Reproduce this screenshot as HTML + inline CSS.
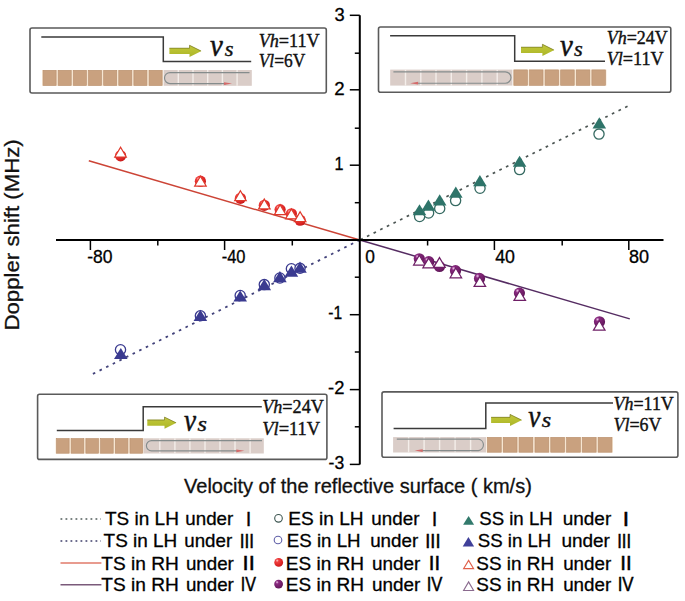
<!DOCTYPE html>
<html><head><meta charset="utf-8"><title>Doppler shift chart</title>
<style>html,body{margin:0;padding:0;background:#fff;} svg{display:block;}</style></head>
<body>
<svg width="685" height="601" viewBox="0 0 685 601" style="font-family:'Liberation Sans', sans-serif">
<defs>
<linearGradient id="grn" x1="0" y1="0" x2="0" y2="1">
<stop offset="0" stop-color="#c2c640"/><stop offset="0.5" stop-color="#b8c030"/><stop offset="1" stop-color="#aab42a"/>
</linearGradient>
<radialGradient id="sred" cx="0.38" cy="0.35" r="0.7" fx="0.32" fy="0.28">
<stop offset="0" stop-color="#ffd0d0"/><stop offset="0.25" stop-color="#f04040"/><stop offset="0.8" stop-color="#d82020"/><stop offset="1" stop-color="#c01818"/>
</radialGradient>
<radialGradient id="spur" cx="0.38" cy="0.35" r="0.7" fx="0.32" fy="0.28">
<stop offset="0" stop-color="#f0c8ec"/><stop offset="0.25" stop-color="#8a2a80"/><stop offset="0.8" stop-color="#6a1a62"/><stop offset="1" stop-color="#581452"/>
</radialGradient>
</defs>
<rect width="685" height="601" fill="#fff"/>
<line x1="359.8" y1="240.0" x2="628" y2="106" stroke="#4c5553" stroke-width="1.7" stroke-dasharray="2.7 4.7" stroke-dashoffset="-0.6"/>
<line x1="359.8" y1="240.0" x2="92.3" y2="374.2" stroke="#42427a" stroke-width="1.8" stroke-dasharray="2.6 4.8"/>
<line x1="88.8" y1="160.8" x2="359.8" y2="240.0" stroke="#cc4436" stroke-width="1.5"/>
<line x1="359.8" y1="240.0" x2="629.8" y2="318.9" stroke="#552c62" stroke-width="1.5"/>
<line x1="56" y1="240.0" x2="663.5" y2="240.0" stroke="#000" stroke-width="2"/>
<line x1="359.8" y1="15.3" x2="359.8" y2="464.5" stroke="#000" stroke-width="2"/>
<line x1="90.4" y1="240.0" x2="90.4" y2="250.0" stroke="#000" stroke-width="1.5"/>
<line x1="224.6" y1="240.0" x2="224.6" y2="250.0" stroke="#000" stroke-width="1.5"/>
<line x1="494.4" y1="240.0" x2="494.4" y2="250.0" stroke="#000" stroke-width="1.5"/>
<line x1="628.8" y1="240.0" x2="628.8" y2="250.0" stroke="#000" stroke-width="1.5"/>
<line x1="157.8" y1="240.0" x2="157.8" y2="245.5" stroke="#000" stroke-width="1.5"/>
<line x1="292.3" y1="240.0" x2="292.3" y2="245.5" stroke="#000" stroke-width="1.5"/>
<line x1="427.6" y1="240.0" x2="427.6" y2="245.5" stroke="#000" stroke-width="1.5"/>
<line x1="562.2" y1="240.0" x2="562.2" y2="245.5" stroke="#000" stroke-width="1.5"/>
<line x1="349.8" y1="15.3" x2="359.8" y2="15.3" stroke="#000" stroke-width="1.5"/>
<line x1="349.8" y1="89.8" x2="359.8" y2="89.8" stroke="#000" stroke-width="1.5"/>
<line x1="349.8" y1="165.2" x2="359.8" y2="165.2" stroke="#000" stroke-width="1.5"/>
<line x1="349.8" y1="314.7" x2="359.8" y2="314.7" stroke="#000" stroke-width="1.5"/>
<line x1="349.8" y1="389.6" x2="359.8" y2="389.6" stroke="#000" stroke-width="1.5"/>
<line x1="349.8" y1="464.4" x2="359.8" y2="464.4" stroke="#000" stroke-width="1.5"/>
<line x1="354.8" y1="53.2" x2="359.8" y2="53.2" stroke="#000" stroke-width="1.5"/>
<line x1="354.8" y1="128.2" x2="359.8" y2="128.2" stroke="#000" stroke-width="1.5"/>
<line x1="354.8" y1="202.7" x2="359.8" y2="202.7" stroke="#000" stroke-width="1.5"/>
<line x1="354.8" y1="277.2" x2="359.8" y2="277.2" stroke="#000" stroke-width="1.5"/>
<line x1="354.8" y1="352" x2="359.8" y2="352" stroke="#000" stroke-width="1.5"/>
<line x1="354.8" y1="426.8" x2="359.8" y2="426.8" stroke="#000" stroke-width="1.5"/>
<text transform="translate(334.46,20.50) scale(1.0290,1)" font-size="17.8" fill="#000" stroke="#000" stroke-width="0.3" ><tspan font-family="Liberation Sans" font-weight="normal" font-style="normal">3</tspan></text>
<text transform="translate(334.22,94.70) scale(1.0495,1)" font-size="17.8" fill="#000" stroke="#000" stroke-width="0.3" ><tspan font-family="Liberation Sans" font-weight="normal" font-style="normal">2</tspan></text>
<text transform="translate(334.54,169.80) scale(0.9093,1)" font-size="17.8" fill="#000" stroke="#000" stroke-width="0.3" ><tspan font-family="Liberation Sans" font-weight="normal" font-style="normal">1</tspan></text>
<text transform="translate(328.25,319.10) scale(0.8763,1)" font-size="17.8" fill="#000" stroke="#000" stroke-width="0.3" ><tspan font-family="Liberation Sans" font-weight="normal" font-style="normal">-1</tspan></text>
<text transform="translate(328.02,394.10) scale(1.0350,1)" font-size="17.8" fill="#000" stroke="#000" stroke-width="0.3" ><tspan font-family="Liberation Sans" font-weight="normal" font-style="normal">-2</tspan></text>
<text transform="translate(328.56,469.40) scale(0.9902,1)" font-size="17.8" fill="#000" stroke="#000" stroke-width="0.3" ><tspan font-family="Liberation Sans" font-weight="normal" font-style="normal">-3</tspan></text>
<text transform="translate(87.26,262.70) scale(0.9855,1)" font-size="17.8" fill="#000" stroke="#000" stroke-width="0.3" ><tspan font-family="Liberation Sans" font-weight="normal" font-style="normal">-80</tspan></text>
<text transform="translate(221.71,262.70) scale(0.9236,1)" font-size="17.8" fill="#000" stroke="#000" stroke-width="0.3" ><tspan font-family="Liberation Sans" font-weight="normal" font-style="normal">-40</tspan></text>
<text transform="translate(365.15,262.60) scale(0.9765,1)" font-size="17.8" fill="#000" stroke="#000" stroke-width="0.3" ><tspan font-family="Liberation Sans" font-weight="normal" font-style="normal">0</tspan></text>
<text transform="translate(495.15,262.70) scale(1.0005,1)" font-size="17.8" fill="#000" stroke="#000" stroke-width="0.3" ><tspan font-family="Liberation Sans" font-weight="normal" font-style="normal">40</tspan></text>
<text transform="translate(628.98,262.70) scale(1.0145,1)" font-size="17.8" fill="#000" stroke="#000" stroke-width="0.3" ><tspan font-family="Liberation Sans" font-weight="normal" font-style="normal">80</tspan></text>
<circle cx="419.6" cy="216.5" r="5.1" fill="#fff" stroke="#366a62" stroke-width="1.3"/>
<circle cx="428.6" cy="213" r="5.1" fill="#fff" stroke="#366a62" stroke-width="1.3"/>
<circle cx="439.7" cy="208.5" r="5.1" fill="#fff" stroke="#366a62" stroke-width="1.3"/>
<circle cx="455.6" cy="200.6" r="5.1" fill="#fff" stroke="#366a62" stroke-width="1.3"/>
<circle cx="480" cy="188.3" r="5.1" fill="#fff" stroke="#366a62" stroke-width="1.3"/>
<circle cx="519.6" cy="169.6" r="5.1" fill="#fff" stroke="#366a62" stroke-width="1.3"/>
<circle cx="599" cy="134.1" r="5.1" fill="#fff" stroke="#366a62" stroke-width="1.3"/>
<circle cx="120.5" cy="349.7" r="5.1" fill="#fff" stroke="#3a3a90" stroke-width="1.3"/>
<circle cx="200.4" cy="315.8" r="5.1" fill="#fff" stroke="#3a3a90" stroke-width="1.3"/>
<circle cx="240.2" cy="295.5" r="5.1" fill="#fff" stroke="#3a3a90" stroke-width="1.3"/>
<circle cx="264.3" cy="284.6" r="5.1" fill="#fff" stroke="#3a3a90" stroke-width="1.3"/>
<circle cx="279.9" cy="278" r="5.1" fill="#fff" stroke="#3a3a90" stroke-width="1.3"/>
<circle cx="291.4" cy="268.7" r="5.1" fill="#fff" stroke="#3a3a90" stroke-width="1.3"/>
<circle cx="300" cy="268.3" r="5.1" fill="#fff" stroke="#3a3a90" stroke-width="1.3"/>
<circle cx="120.6" cy="155.8" r="5.6" fill="url(#sred)"/>
<circle cx="200.4" cy="181.2" r="5.6" fill="url(#sred)"/>
<circle cx="240.4" cy="198.3" r="5.6" fill="url(#sred)"/>
<circle cx="264.3" cy="205.3" r="5.6" fill="url(#sred)"/>
<circle cx="280.1" cy="209.6" r="5.6" fill="url(#sred)"/>
<circle cx="291.4" cy="213.8" r="5.6" fill="url(#sred)"/>
<circle cx="300.1" cy="220.2" r="5.6" fill="url(#sred)"/>
<circle cx="419.3" cy="258.8" r="5.6" fill="url(#spur)"/>
<circle cx="428.8" cy="261.7" r="5.6" fill="url(#spur)"/>
<circle cx="439.5" cy="266.5" r="5.6" fill="url(#spur)"/>
<circle cx="455.5" cy="270.7" r="5.6" fill="url(#spur)"/>
<circle cx="479.5" cy="278.4" r="5.6" fill="url(#spur)"/>
<circle cx="519.4" cy="293.1" r="5.6" fill="url(#spur)"/>
<circle cx="599.5" cy="321.8" r="5.6" fill="url(#spur)"/>
<polygon points="419.5,204.2 426.3,215.3 412.7,215.3" fill="#2e7469"/>
<polygon points="428.4,199.6 435.2,210.8 421.6,210.8" fill="#2e7469"/>
<polygon points="439.7,194.3 446.5,205.5 432.9,205.5" fill="#2e7469"/>
<polygon points="455.8,186.6 462.6,197.8 449.0,197.8" fill="#2e7469"/>
<polygon points="479.9,175.1 486.7,186.2 473.1,186.2" fill="#2e7469"/>
<polygon points="519.6,155.7 526.4,166.8 512.8,166.8" fill="#2e7469"/>
<polygon points="599.3,117.3 606.1,128.5 592.5,128.5" fill="#2e7469"/>
<polygon points="120.8,347.9 127.6,359.1 114.0,359.1" fill="#3a3a90"/>
<polygon points="200.4,309.8 207.2,321.0 193.6,321.0" fill="#3a3a90"/>
<polygon points="240.2,290.4 247.0,301.6 233.4,301.6" fill="#3a3a90"/>
<polygon points="264.3,279.0 271.1,290.2 257.5,290.2" fill="#3a3a90"/>
<polygon points="279.9,271.1 286.7,282.3 273.1,282.3" fill="#3a3a90"/>
<polygon points="291.4,265.5 298.2,276.7 284.6,276.7" fill="#3a3a90"/>
<polygon points="300.0,261.6 306.8,272.8 293.2,272.8" fill="#3a3a90"/>
<polygon points="120.6,147.2 126.3,157.0 114.8,157.0" fill="#fff" stroke="#e0392b" stroke-width="1.25"/>
<polygon points="200.4,176.2 206.2,186.0 194.7,186.0" fill="#fff" stroke="#e0392b" stroke-width="1.25"/>
<polygon points="240.4,190.8 246.2,200.6 234.7,200.6" fill="#fff" stroke="#e0392b" stroke-width="1.25"/>
<polygon points="264.3,199.1 270.1,208.9 258.6,208.9" fill="#fff" stroke="#e0392b" stroke-width="1.25"/>
<polygon points="280.1,204.8 285.9,214.6 274.4,214.6" fill="#fff" stroke="#e0392b" stroke-width="1.25"/>
<polygon points="291.4,209.0 297.1,218.8 285.6,218.8" fill="#fff" stroke="#e0392b" stroke-width="1.25"/>
<polygon points="300.1,211.8 305.9,221.6 294.4,221.6" fill="#fff" stroke="#e0392b" stroke-width="1.25"/>
<polygon points="419.3,255.2 425.1,265.0 413.6,265.0" fill="#fff" stroke="#6e1f66" stroke-width="1.25"/>
<polygon points="428.7,258.1 434.4,267.8 422.9,267.8" fill="#fff" stroke="#6e1f66" stroke-width="1.25"/>
<polygon points="439.5,257.6 445.2,267.3 433.8,267.3" fill="#fff" stroke="#6e1f66" stroke-width="1.25"/>
<polygon points="455.8,268.0 461.6,277.8 450.1,277.8" fill="#fff" stroke="#6e1f66" stroke-width="1.25"/>
<polygon points="479.8,276.6 485.6,286.4 474.1,286.4" fill="#fff" stroke="#6e1f66" stroke-width="1.25"/>
<polygon points="519.7,290.7 525.5,300.4 514.0,300.4" fill="#fff" stroke="#6e1f66" stroke-width="1.25"/>
<polygon points="599.3,320.4 605.0,330.1 593.5,330.1" fill="#fff" stroke="#6e1f66" stroke-width="1.25"/>
<rect x="30" y="28" width="296.3" height="65.0" rx="2" fill="#fff" stroke="#5a5a5a" stroke-width="1.6"/>
<rect x="42.0" y="70.0" width="121.1" height="15.8" fill="#f7e6d2"/>
<rect x="43.1" y="70.3" width="13.0" height="15.2" fill="#c9a17f" stroke="#b88f6e" stroke-width="0.6"/>
<rect x="58.2" y="70.3" width="13.0" height="15.2" fill="#c9a17f" stroke="#b88f6e" stroke-width="0.6"/>
<rect x="73.4" y="70.3" width="13.0" height="15.2" fill="#c9a17f" stroke="#b88f6e" stroke-width="0.6"/>
<rect x="88.5" y="70.3" width="13.0" height="15.2" fill="#c9a17f" stroke="#b88f6e" stroke-width="0.6"/>
<rect x="103.7" y="70.3" width="13.0" height="15.2" fill="#c9a17f" stroke="#b88f6e" stroke-width="0.6"/>
<rect x="118.8" y="70.3" width="13.0" height="15.2" fill="#c9a17f" stroke="#b88f6e" stroke-width="0.6"/>
<rect x="133.9" y="70.3" width="13.0" height="15.2" fill="#c9a17f" stroke="#b88f6e" stroke-width="0.6"/>
<rect x="149.1" y="70.3" width="13.0" height="15.2" fill="#c9a17f" stroke="#b88f6e" stroke-width="0.6"/>
<rect x="163.6" y="70.0" width="88.2" height="15.8" fill="#dacdc8"/>
<rect x="177.6" y="70.0" width="1.4" height="15.8" fill="#f4eeea"/>
<rect x="192.3" y="70.0" width="1.4" height="15.8" fill="#f4eeea"/>
<rect x="207.0" y="70.0" width="1.4" height="15.8" fill="#f4eeea"/>
<rect x="221.7" y="70.0" width="1.4" height="15.8" fill="#f4eeea"/>
<rect x="236.4" y="70.0" width="1.4" height="15.8" fill="#f4eeea"/>
<path d="M249.5,72.6 H170.0 A5.5,5.5 0 0 0 170.0,83.6 H226.0" fill="none" stroke="#858c8c" stroke-width="1.15"/>
<polygon points="224.0,82.2 232.0,83.6 224.0,85.0" fill="#d46a6a"/>
<polyline points="41.3,37.1 163.3,37.1 163.3,61.4 251.2,61.4" fill="none" stroke="#3a3a3a" stroke-width="1.5"/>
<polygon points="169.4,48.0 189.5,48.0 189.5,45.1 201.5,51 189.5,56.9 189.5,54.0 169.4,54.0" fill="url(#grn)"/>
<polyline points="169.4,48.2 189.5,48.2 189.5,45.3 201.0,51" fill="none" stroke="#6e7020" stroke-width="0.8" opacity="0.8"/>
<text transform="translate(210.02,56.30) scale(0.8873,1)" font-size="32.5" fill="#111" stroke="#111" stroke-width="0.5" ><tspan font-family="Liberation Serif" font-weight="normal" font-style="italic">v</tspan></text>
<text transform="translate(224.72,56.30) scale(1.0689,1)" font-size="21" fill="#111" stroke="#111" stroke-width="0.4" ><tspan font-family="Liberation Serif" font-weight="normal" font-style="italic">s</tspan></text>
<text transform="translate(258.65,46.90) scale(0.9568,1)" font-size="19" fill="#111" stroke="#111" stroke-width="0.4" ><tspan font-family="Liberation Serif" font-weight="normal" font-style="italic">Vh</tspan><tspan font-family="Liberation Serif" font-weight="normal" font-style="normal">=11V</tspan></text>
<text transform="translate(258.69,67.30) scale(0.9155,1)" font-size="19" fill="#111" stroke="#111" stroke-width="0.4" ><tspan font-family="Liberation Serif" font-weight="normal" font-style="italic">Vl</tspan><tspan font-family="Liberation Serif" font-weight="normal" font-style="normal">=6V</tspan></text>
<rect x="378.5" y="27" width="292.3" height="65.2" rx="2" fill="#fff" stroke="#5a5a5a" stroke-width="1.6"/>
<rect x="390.2" y="69.6" width="122.2" height="16.0" fill="#dacdc8"/>
<rect x="404.8" y="69.6" width="1.4" height="16.0" fill="#f4eeea"/>
<rect x="420.1" y="69.6" width="1.4" height="16.0" fill="#f4eeea"/>
<rect x="435.3" y="69.6" width="1.4" height="16.0" fill="#f4eeea"/>
<rect x="450.6" y="69.6" width="1.4" height="16.0" fill="#f4eeea"/>
<rect x="465.9" y="69.6" width="1.4" height="16.0" fill="#f4eeea"/>
<rect x="481.2" y="69.6" width="1.4" height="16.0" fill="#f4eeea"/>
<rect x="496.5" y="69.6" width="1.4" height="16.0" fill="#f4eeea"/>
<rect x="512.9" y="69.6" width="93.6" height="16.0" fill="#f7e6d2"/>
<rect x="513.9" y="69.9" width="13.5" height="15.4" fill="#c9a17f" stroke="#b88f6e" stroke-width="0.6"/>
<rect x="529.5" y="69.9" width="13.5" height="15.4" fill="#c9a17f" stroke="#b88f6e" stroke-width="0.6"/>
<rect x="545.1" y="69.9" width="13.5" height="15.4" fill="#c9a17f" stroke="#b88f6e" stroke-width="0.6"/>
<rect x="560.7" y="69.9" width="13.5" height="15.4" fill="#c9a17f" stroke="#b88f6e" stroke-width="0.6"/>
<rect x="576.3" y="69.9" width="13.5" height="15.4" fill="#c9a17f" stroke="#b88f6e" stroke-width="0.6"/>
<rect x="591.9" y="69.9" width="13.5" height="15.4" fill="#c9a17f" stroke="#b88f6e" stroke-width="0.6"/>
<path d="M393.4,71.8 H505.3 A5.7,5.7 0 0 1 505.3,83.2 H416.1" fill="none" stroke="#858c8c" stroke-width="1.15"/>
<polygon points="418.1,81.8 410.1,83.2 418.1,84.6" fill="#d46a6a"/>
<polyline points="390.1,35.8 514.7,35.8 514.7,61.2 605.0,61.2" fill="none" stroke="#3a3a3a" stroke-width="1.5"/>
<polygon points="521,47.0 542.4,47.0 542.4,44.1 554.4,50 542.4,55.9 542.4,53.0 521,53.0" fill="url(#grn)"/>
<polyline points="521,47.2 542.4,47.2 542.4,44.3 553.9,50" fill="none" stroke="#6e7020" stroke-width="0.8" opacity="0.8"/>
<text transform="translate(560.02,56.30) scale(0.8873,1)" font-size="32.5" fill="#111" stroke="#111" stroke-width="0.5" ><tspan font-family="Liberation Serif" font-weight="normal" font-style="italic">v</tspan></text>
<text transform="translate(574.12,56.30) scale(1.0689,1)" font-size="21" fill="#111" stroke="#111" stroke-width="0.4" ><tspan font-family="Liberation Serif" font-weight="normal" font-style="italic">s</tspan></text>
<text transform="translate(606.66,44.10) scale(0.9460,1)" font-size="19" fill="#111" stroke="#111" stroke-width="0.4" ><tspan font-family="Liberation Serif" font-weight="normal" font-style="italic">Vh</tspan><tspan font-family="Liberation Serif" font-weight="normal" font-style="normal">=24V</tspan></text>
<text transform="translate(606.65,64.60) scale(0.9558,1)" font-size="19" fill="#111" stroke="#111" stroke-width="0.4" ><tspan font-family="Liberation Serif" font-weight="normal" font-style="italic">Vl</tspan><tspan font-family="Liberation Serif" font-weight="normal" font-style="normal">=11V</tspan></text>
<rect x="37.6" y="394.2" width="289.3" height="65.2" rx="2" fill="#fff" stroke="#5a5a5a" stroke-width="1.6"/>
<rect x="55.5" y="438.3" width="88.2" height="15.2" fill="#f7e6d2"/>
<rect x="56.5" y="438.6" width="12.6" height="14.6" fill="#c9a17f" stroke="#b88f6e" stroke-width="0.6"/>
<rect x="71.2" y="438.6" width="12.6" height="14.6" fill="#c9a17f" stroke="#b88f6e" stroke-width="0.6"/>
<rect x="85.9" y="438.6" width="12.6" height="14.6" fill="#c9a17f" stroke="#b88f6e" stroke-width="0.6"/>
<rect x="100.6" y="438.6" width="12.6" height="14.6" fill="#c9a17f" stroke="#b88f6e" stroke-width="0.6"/>
<rect x="115.3" y="438.6" width="12.6" height="14.6" fill="#c9a17f" stroke="#b88f6e" stroke-width="0.6"/>
<rect x="130.0" y="438.6" width="12.6" height="14.6" fill="#c9a17f" stroke="#b88f6e" stroke-width="0.6"/>
<rect x="143.5" y="438.3" width="120.3" height="15.2" fill="#dacdc8"/>
<rect x="159.1" y="438.3" width="1.4" height="15.2" fill="#f4eeea"/>
<rect x="174.2" y="438.3" width="1.4" height="15.2" fill="#f4eeea"/>
<rect x="189.2" y="438.3" width="1.4" height="15.2" fill="#f4eeea"/>
<rect x="204.3" y="438.3" width="1.4" height="15.2" fill="#f4eeea"/>
<rect x="219.3" y="438.3" width="1.4" height="15.2" fill="#f4eeea"/>
<rect x="234.3" y="438.3" width="1.4" height="15.2" fill="#f4eeea"/>
<rect x="249.4" y="438.3" width="1.4" height="15.2" fill="#f4eeea"/>
<path d="M262.0,440.6 H151.5 A5.1,5.1 0 0 0 151.5,450.8 H238.4" fill="none" stroke="#858c8c" stroke-width="1.15"/>
<polygon points="236.4,449.4 244.4,450.8 236.4,452.2" fill="#d46a6a"/>
<polyline points="56.8,430.4 143.2,430.4 143.2,406.8 261.8,406.8" fill="none" stroke="#3a3a3a" stroke-width="1.5"/>
<polygon points="147.3,419.8 164.5,419.8 164.5,416.90000000000003 176.5,422.8 164.5,428.7 164.5,425.8 147.3,425.8" fill="url(#grn)"/>
<polyline points="147.3,420.0 164.5,420.0 164.5,417.1 176.0,422.8" fill="none" stroke="#6e7020" stroke-width="0.8" opacity="0.8"/>
<text transform="translate(183.94,430.90) scale(0.8372,1)" font-size="32.5" fill="#111" stroke="#111" stroke-width="0.5" ><tspan font-family="Liberation Serif" font-weight="normal" font-style="italic">v</tspan></text>
<text transform="translate(197.40,430.90) scale(1.1511,1)" font-size="21" fill="#111" stroke="#111" stroke-width="0.4" ><tspan font-family="Liberation Serif" font-weight="normal" font-style="italic">s</tspan></text>
<text transform="translate(262.25,413.40) scale(0.9539,1)" font-size="19" fill="#111" stroke="#111" stroke-width="0.4" ><tspan font-family="Liberation Serif" font-weight="normal" font-style="italic">Vh</tspan><tspan font-family="Liberation Serif" font-weight="normal" font-style="normal">=24V</tspan></text>
<text transform="translate(262.23,435.20) scale(0.9713,1)" font-size="19" fill="#111" stroke="#111" stroke-width="0.4" ><tspan font-family="Liberation Serif" font-weight="normal" font-style="italic">Vl</tspan><tspan font-family="Liberation Serif" font-weight="normal" font-style="normal">=11V</tspan></text>
<rect x="382" y="391.9" width="295.9" height="65.3" rx="2" fill="#fff" stroke="#5a5a5a" stroke-width="1.6"/>
<rect x="393.1" y="437.1" width="93.0" height="15.4" fill="#dacdc8"/>
<rect x="407.9" y="437.1" width="1.4" height="15.4" fill="#f4eeea"/>
<rect x="423.4" y="437.1" width="1.4" height="15.4" fill="#f4eeea"/>
<rect x="438.9" y="437.1" width="1.4" height="15.4" fill="#f4eeea"/>
<rect x="454.4" y="437.1" width="1.4" height="15.4" fill="#f4eeea"/>
<rect x="469.9" y="437.1" width="1.4" height="15.4" fill="#f4eeea"/>
<rect x="486.4" y="437.1" width="126.6" height="15.4" fill="#f7e6d2"/>
<rect x="487.5" y="437.4" width="13.7" height="14.8" fill="#c9a17f" stroke="#b88f6e" stroke-width="0.6"/>
<rect x="503.3" y="437.4" width="13.7" height="14.8" fill="#c9a17f" stroke="#b88f6e" stroke-width="0.6"/>
<rect x="519.1" y="437.4" width="13.7" height="14.8" fill="#c9a17f" stroke="#b88f6e" stroke-width="0.6"/>
<rect x="535.0" y="437.4" width="13.7" height="14.8" fill="#c9a17f" stroke="#b88f6e" stroke-width="0.6"/>
<rect x="550.8" y="437.4" width="13.7" height="14.8" fill="#c9a17f" stroke="#b88f6e" stroke-width="0.6"/>
<rect x="566.6" y="437.4" width="13.7" height="14.8" fill="#c9a17f" stroke="#b88f6e" stroke-width="0.6"/>
<rect x="582.4" y="437.4" width="13.7" height="14.8" fill="#c9a17f" stroke="#b88f6e" stroke-width="0.6"/>
<rect x="598.2" y="437.4" width="13.7" height="14.8" fill="#c9a17f" stroke="#b88f6e" stroke-width="0.6"/>
<path d="M396.8,439.1 H478.4 A5.8,5.8 0 0 1 478.4,450.6 H420.7" fill="none" stroke="#858c8c" stroke-width="1.15"/>
<polygon points="422.7,449.2 414.7,450.6 422.7,452.0" fill="#d46a6a"/>
<polyline points="393.6,428.4 485.8,428.4 485.8,402.9 613.0,402.9" fill="none" stroke="#3a3a3a" stroke-width="1.5"/>
<polygon points="491.1,417.1 510,417.1 510,414.20000000000005 522,420.1 510,426.0 510,423.1 491.1,423.1" fill="url(#grn)"/>
<polyline points="491.1,417.3 510,417.3 510,414.40000000000003 521.5,420.1" fill="none" stroke="#6e7020" stroke-width="0.8" opacity="0.8"/>
<text transform="translate(528.34,426.50) scale(0.8372,1)" font-size="32.5" fill="#111" stroke="#111" stroke-width="0.5" ><tspan font-family="Liberation Serif" font-weight="normal" font-style="italic">v</tspan></text>
<text transform="translate(541.80,426.50) scale(1.1511,1)" font-size="21" fill="#111" stroke="#111" stroke-width="0.4" ><tspan font-family="Liberation Serif" font-weight="normal" font-style="italic">s</tspan></text>
<text transform="translate(613.56,409.80) scale(0.9440,1)" font-size="19" fill="#111" stroke="#111" stroke-width="0.4" ><tspan font-family="Liberation Serif" font-weight="normal" font-style="italic">Vh</tspan><tspan font-family="Liberation Serif" font-weight="normal" font-style="normal">=11V</tspan></text>
<text transform="translate(613.56,430.90) scale(0.9417,1)" font-size="19" fill="#111" stroke="#111" stroke-width="0.4" ><tspan font-family="Liberation Serif" font-weight="normal" font-style="italic">Vl</tspan><tspan font-family="Liberation Serif" font-weight="normal" font-style="normal">=6V</tspan></text>
<text transform="translate(184.05,493.20) scale(1.0104,1)" font-size="19.8" fill="#111" stroke="#111" stroke-width="0.3" ><tspan font-family="Liberation Sans" font-weight="normal" font-style="normal">Velocity of the reflective surface ( km/s)</tspan></text>
<g transform="translate(19.2,330.53) rotate(-90)"><text transform="scale(1.0581,1)" font-family="Liberation Sans" font-size="21" fill="#111" stroke="#111" stroke-width="0.3">Doppler shift (MHz)</text></g>
<line x1="60.5" y1="518.9" x2="101" y2="518.9" stroke="#505c5a" stroke-width="1.5" stroke-dasharray="1.8 3.2"/>
<line x1="60.5" y1="540.9" x2="101" y2="540.9" stroke="#3e3e6a" stroke-width="1.5" stroke-dasharray="1.8 3.2"/>
<line x1="60.5" y1="562.9" x2="101.4" y2="562.9" stroke="#e07a6a" stroke-width="1.5"/>
<line x1="60.5" y1="584.8" x2="101.4" y2="584.8" stroke="#7a5a7a" stroke-width="1.5"/>
<text transform="translate(105.02,525.10) scale(1.0268,1)" font-size="18.5" fill="#000" stroke="#000" stroke-width="0.3" ><tspan font-family="Liberation Sans" font-weight="normal" font-style="normal">TS in LH</tspan></text>
<text transform="translate(185.33,525.10) scale(1.0124,1)" font-size="18.5" fill="#000" stroke="#000" stroke-width="0.3" ><tspan font-family="Liberation Sans" font-weight="normal" font-style="normal">under</tspan></text>
<text transform="translate(246.10,525.50) scale(0.9053,1)" font-size="20.3" fill="#000" stroke="#000" stroke-width="0.5" ><tspan font-family="Liberation Sans" font-weight="normal" font-style="normal">I</tspan></text>
<text transform="translate(103.62,547.20) scale(1.0240,1)" font-size="18.5" fill="#000" stroke="#000" stroke-width="0.3" ><tspan font-family="Liberation Sans" font-weight="normal" font-style="normal">TS in LH</tspan></text>
<text transform="translate(184.23,547.20) scale(1.0124,1)" font-size="18.5" fill="#000" stroke="#000" stroke-width="0.3" ><tspan font-family="Liberation Sans" font-weight="normal" font-style="normal">under</tspan></text>
<text transform="translate(239.71,547.60) scale(0.8445,1)" font-size="20.3" fill="#000" stroke="#000" stroke-width="0.5" ><tspan font-family="Liberation Sans" font-weight="normal" font-style="normal">III</tspan></text>
<text transform="translate(101.32,569.90) scale(1.0339,1)" font-size="18.5" fill="#000" stroke="#000" stroke-width="0.3" ><tspan font-family="Liberation Sans" font-weight="normal" font-style="normal">TS in RH</tspan></text>
<text transform="translate(185.93,569.90) scale(1.0124,1)" font-size="18.5" fill="#000" stroke="#000" stroke-width="0.3" ><tspan font-family="Liberation Sans" font-weight="normal" font-style="normal">under</tspan></text>
<text transform="translate(242.57,570.30) scale(1.0784,1)" font-size="20.3" fill="#000" stroke="#000" stroke-width="0.5" ><tspan font-family="Liberation Sans" font-weight="normal" font-style="normal">II</tspan></text>
<text transform="translate(101.32,590.60) scale(1.0339,1)" font-size="18.5" fill="#000" stroke="#000" stroke-width="0.3" ><tspan font-family="Liberation Sans" font-weight="normal" font-style="normal">TS in RH</tspan></text>
<text transform="translate(185.93,590.60) scale(1.0124,1)" font-size="18.5" fill="#000" stroke="#000" stroke-width="0.3" ><tspan font-family="Liberation Sans" font-weight="normal" font-style="normal">under</tspan></text>
<text transform="translate(240.82,591.00) scale(0.7905,1)" font-size="20.3" fill="#000" stroke="#000" stroke-width="0.5" ><tspan font-family="Liberation Sans" font-weight="normal" font-style="normal">IV</tspan></text>
<text transform="translate(288.27,525.10) scale(1.0332,1)" font-size="18.5" fill="#000" stroke="#000" stroke-width="0.3" ><tspan font-family="Liberation Sans" font-weight="normal" font-style="normal">ES in LH</tspan></text>
<text transform="translate(371.33,525.10) scale(1.0167,1)" font-size="18.5" fill="#000" stroke="#000" stroke-width="0.3" ><tspan font-family="Liberation Sans" font-weight="normal" font-style="normal">under</tspan></text>
<text transform="translate(431.90,525.50) scale(0.9053,1)" font-size="20.3" fill="#000" stroke="#000" stroke-width="0.5" ><tspan font-family="Liberation Sans" font-weight="normal" font-style="normal">I</tspan></text>
<text transform="translate(286.81,547.20) scale(1.0118,1)" font-size="18.5" fill="#000" stroke="#000" stroke-width="0.3" ><tspan font-family="Liberation Sans" font-weight="normal" font-style="normal">ES in LH</tspan></text>
<text transform="translate(370.13,547.20) scale(1.0167,1)" font-size="18.5" fill="#000" stroke="#000" stroke-width="0.3" ><tspan font-family="Liberation Sans" font-weight="normal" font-style="normal">under</tspan></text>
<text transform="translate(425.31,547.60) scale(0.8977,1)" font-size="20.3" fill="#000" stroke="#000" stroke-width="0.5" ><tspan font-family="Liberation Sans" font-weight="normal" font-style="normal">III</tspan></text>
<text transform="translate(285.78,569.90) scale(1.0297,1)" font-size="18.5" fill="#000" stroke="#000" stroke-width="0.3" ><tspan font-family="Liberation Sans" font-weight="normal" font-style="normal">ES in RH</tspan></text>
<text transform="translate(371.92,569.90) scale(1.0233,1)" font-size="18.5" fill="#000" stroke="#000" stroke-width="0.3" ><tspan font-family="Liberation Sans" font-weight="normal" font-style="normal">under</tspan></text>
<text transform="translate(428.83,570.30) scale(0.9985,1)" font-size="20.3" fill="#000" stroke="#000" stroke-width="0.5" ><tspan font-family="Liberation Sans" font-weight="normal" font-style="normal">II</tspan></text>
<text transform="translate(285.78,590.60) scale(1.0297,1)" font-size="18.5" fill="#000" stroke="#000" stroke-width="0.3" ><tspan font-family="Liberation Sans" font-weight="normal" font-style="normal">ES in RH</tspan></text>
<text transform="translate(371.92,590.60) scale(1.0233,1)" font-size="18.5" fill="#000" stroke="#000" stroke-width="0.3" ><tspan font-family="Liberation Sans" font-weight="normal" font-style="normal">under</tspan></text>
<text transform="translate(426.66,591.00) scale(0.8196,1)" font-size="20.3" fill="#000" stroke="#000" stroke-width="0.5" ><tspan font-family="Liberation Sans" font-weight="normal" font-style="normal">IV</tspan></text>
<text transform="translate(479.21,525.10) scale(1.0075,1)" font-size="18.5" fill="#000" stroke="#000" stroke-width="0.3" ><tspan font-family="Liberation Sans" font-weight="normal" font-style="normal">SS in LH</tspan></text>
<text transform="translate(562.72,525.10) scale(1.0254,1)" font-size="18.5" fill="#000" stroke="#000" stroke-width="0.3" ><tspan font-family="Liberation Sans" font-weight="normal" font-style="normal">under</tspan></text>
<text transform="translate(622.70,525.50) scale(1.1184,1)" font-size="20.3" fill="#000" stroke="#000" stroke-width="0.5" ><tspan font-family="Liberation Sans" font-weight="normal" font-style="normal">I</tspan></text>
<text transform="translate(477.71,547.20) scale(1.0089,1)" font-size="18.5" fill="#000" stroke="#000" stroke-width="0.3" ><tspan font-family="Liberation Sans" font-weight="normal" font-style="normal">SS in LH</tspan></text>
<text transform="translate(561.42,547.20) scale(1.0254,1)" font-size="18.5" fill="#000" stroke="#000" stroke-width="0.3" ><tspan font-family="Liberation Sans" font-weight="normal" font-style="normal">under</tspan></text>
<text transform="translate(617.16,547.60) scale(0.8217,1)" font-size="20.3" fill="#000" stroke="#000" stroke-width="0.5" ><tspan font-family="Liberation Sans" font-weight="normal" font-style="normal">III</tspan></text>
<text transform="translate(476.30,569.90) scale(1.0255,1)" font-size="18.5" fill="#000" stroke="#000" stroke-width="0.3" ><tspan font-family="Liberation Sans" font-weight="normal" font-style="normal">SS in RH</tspan></text>
<text transform="translate(563.13,569.90) scale(1.0167,1)" font-size="18.5" fill="#000" stroke="#000" stroke-width="0.3" ><tspan font-family="Liberation Sans" font-weight="normal" font-style="normal">under</tspan></text>
<text transform="translate(620.30,570.30) scale(1.0118,1)" font-size="20.3" fill="#000" stroke="#000" stroke-width="0.5" ><tspan font-family="Liberation Sans" font-weight="normal" font-style="normal">II</tspan></text>
<text transform="translate(476.30,590.60) scale(1.0255,1)" font-size="18.5" fill="#000" stroke="#000" stroke-width="0.3" ><tspan font-family="Liberation Sans" font-weight="normal" font-style="normal">SS in RH</tspan></text>
<text transform="translate(563.13,590.60) scale(1.0167,1)" font-size="18.5" fill="#000" stroke="#000" stroke-width="0.3" ><tspan font-family="Liberation Sans" font-weight="normal" font-style="normal">under</tspan></text>
<text transform="translate(617.64,591.00) scale(0.8312,1)" font-size="20.3" fill="#000" stroke="#000" stroke-width="0.5" ><tspan font-family="Liberation Sans" font-weight="normal" font-style="normal">IV</tspan></text>
<circle cx="278.5" cy="518.3" r="3.8" fill="#fff" stroke="#3c5550" stroke-width="1.1"/>
<circle cx="278" cy="540" r="3.8" fill="#fff" stroke="#6060a8" stroke-width="1.1"/>
<circle cx="278.7" cy="562.4" r="4.4" fill="url(#sred)"/>
<circle cx="278.6" cy="584.1" r="4.4" fill="url(#spur)"/>
<polygon points="468.6,516.0 474.1,524.8 463.1,524.8" fill="#327a6c"/>
<polygon points="468.4,537.1 474.1,546.6 462.7,546.6" fill="#40409a"/>
<polygon points="468.6,560.4 473.6,568.6 463.6,568.6" fill="#fff" stroke="#e0604a" stroke-width="1.1"/>
<polygon points="468.6,581.9 473.6,590.5 463.6,590.5" fill="#fff" stroke="#8a6a8e" stroke-width="1.1"/>
</svg>
</body></html>
